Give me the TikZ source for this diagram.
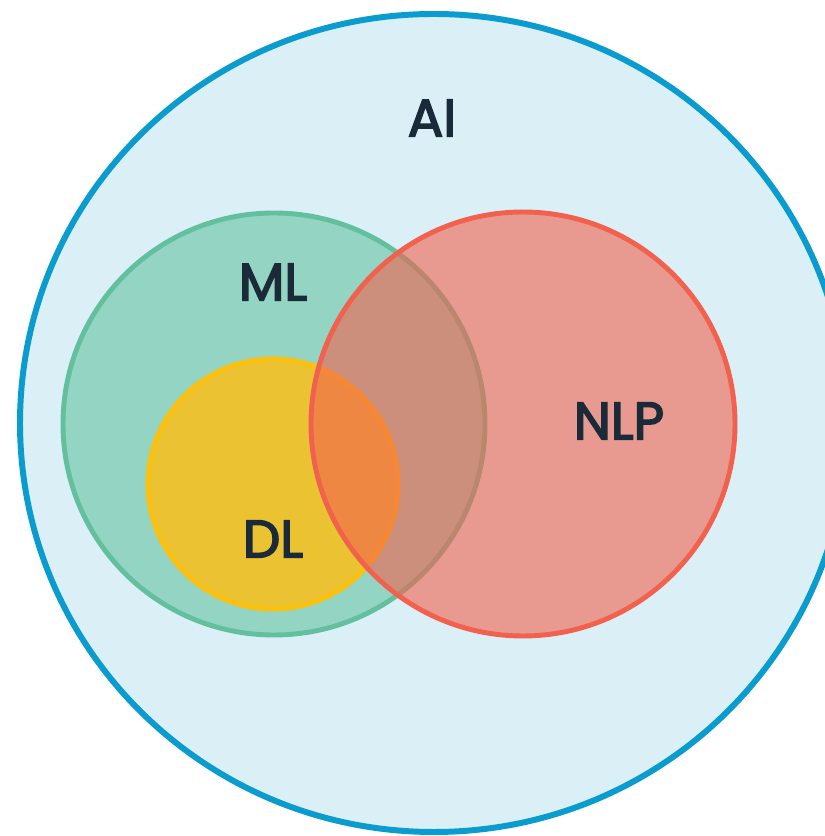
\documentclass[tikz,border=0pt]{standalone}
\usepackage{fontspec}
\newfontfamily\labelfont[FakeBold=3]{Poppins}
\usepackage{xcolor}
\usepackage{tikz}

\definecolor{aifill}{RGB}{218,239,246}
\definecolor{aidraw}{RGB}{10,155,207}
\definecolor{mlfill}{RGB}{147,213,194}
\definecolor{mldraw}{RGB}{98,192,158}
\definecolor{dlfill}{RGB}{234,194,50}
\definecolor{dldraw}{RGB}{252,192,14}
\definecolor{nlpred}{RGB}{242,97,77}
\definecolor{labeltext}{RGB}{27,42,56}

\begin{document}
\begin{tikzpicture}[every node/.style={font=\labelfont\fontsize{30}{36}\selectfont, text=labeltext}]
\useasboundingbox (0,0) rectangle (16.48,16.72);
\filldraw[fill=aifill, draw=aidraw, line width=3.4pt] (8.68,8.26) ellipse (8.28cm and 8.18cm);
\filldraw[fill=mlfill, draw=mldraw, line width=2.8pt] (5.48,8.24) circle (4.22cm);
\filldraw[fill=dlfill, draw=dldraw, line width=2.8pt] (5.46,7.04) circle (2.5cm);
\filldraw[fill=nlpred, fill opacity=0.6, draw=nlpred, line width=2.8pt] (10.46,8.24) circle (4.24cm);

    \node (ai) at (8.64,14.36) {AI};
    \node (ml) at (5.46,11.08) {ML};
    \node (dl) at (5.46,5.94) {DL};
    \node (nlp) at (12.38,8.30) {NLP};

\end{tikzpicture}
\end{document}
